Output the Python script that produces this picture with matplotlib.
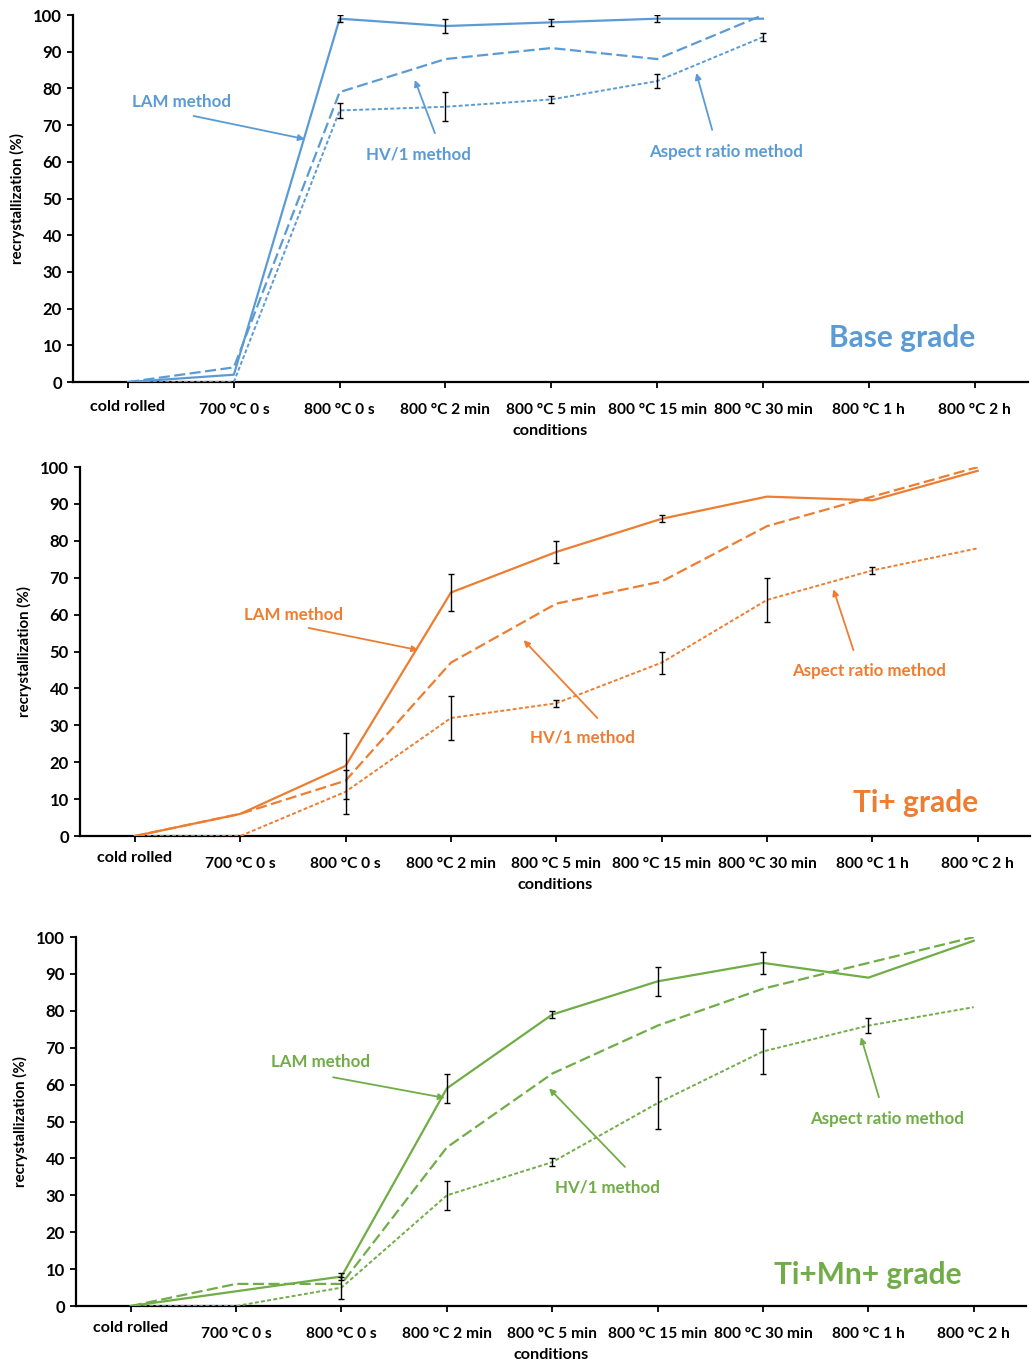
import matplotlib
matplotlib.use("Agg")
import matplotlib.pyplot as plt
import numpy as np

plt.rcParams['font.family'] = ['Lato', 'DejaVu Sans']
plt.rcParams['font.weight'] = 'bold'

conditions = ['cold rolled', '700 °C 0 s', '800 °C 0 s', '800 °C 2 min', '800 °C 5 min',
              '800 °C 15 min', '800 °C 30 min', '800 °C 1 h', '800 °C 2 h']

# Base grade (data only up to 800 °C 30 min)
base_lam = [0, 2, 99, 97, 98, 99, 99]
base_lam_err = [0, 0, 1, 2, 1, 1, 0]
base_hv = [0, 4, 79, 88, 91, 88, 100]
base_ar = [0, 0, 74, 75, 77, 82, 94]
base_ar_err = [0, 0, 2, 4, 1, 2, 1]

# Ti+ grade
ti_lam = [0, 6, 19, 66, 77, 86, 92, 91, 99]
ti_lam_err = [0, 0, 9, 5, 3, 1, 0, 0, 0]
ti_hv = [0, 6, 15, 47, 63, 69, 84, 92, 100]
ti_ar = [0, 0, 12, 32, 36, 47, 64, 72, 78]
ti_ar_err = [0, 0, 6, 6, 1, 3, 6, 1, 0]

# Ti+Mn+ grade
timn_lam = [0, 4, 8, 59, 79, 88, 93, 89, 99]
timn_lam_err = [0, 0, 1, 4, 1, 4, 3, 0, 0]
timn_hv = [0, 6, 6, 43, 63, 76, 86, 93, 100]
timn_ar = [0, 0, 5, 30, 39, 55, 69, 76, 81]
timn_ar_err = [0, 0, 3, 4, 1, 7, 6, 2, 0]

blue = '#5B9BD5'
orange = '#ED7D31'
green = '#70AD47'

fig = plt.figure(figsize=(10.32, 13.65), dpi=100)


def draw_panel(rect, lam, lam_err, hv, ar, ar_err, color, grade, grade_xy, notes, first_up):
    ax = fig.add_axes(rect)
    x_lam = np.arange(len(lam))
    x_hv = np.arange(len(hv))
    x_ar = np.arange(len(ar))
    ax.plot(x_lam, lam, color=color, lw=1.6, zorder=3)
    ax.plot(x_hv, hv, color=color, lw=1.6, dashes=(5, 2), zorder=3)
    ax.plot(x_ar, ar, color=color, lw=1.4, dashes=(2, 1.2), zorder=3)
    lam_e = np.array(lam_err, dtype=float)
    ar_e = np.array(ar_err, dtype=float)
    m = lam_e > 0
    ax.errorbar(x_lam[m], np.array(lam)[m], yerr=lam_e[m], fmt='none', ecolor='black',
                elinewidth=1, capsize=2.5, capthick=1, zorder=4)
    m = ar_e > 0
    ax.errorbar(x_ar[m], np.array(ar)[m], yerr=ar_e[m], fmt='none', ecolor='black',
                elinewidth=1, capsize=2.5, capthick=1, zorder=4)

    for label, txy, tail, tip in notes:
        ax.text(txy[0], txy[1], label, color=color, fontsize=12.2, fontweight='bold',
                ha='center', va='center')
        ax.annotate('', xy=tip, xytext=tail,
                    arrowprops=dict(arrowstyle='-|>', color=color, lw=1.3, mutation_scale=9,
                                    shrinkA=0, shrinkB=0))
    ax.text(grade_xy[0], grade_xy[1], grade, color=color, fontsize=21.5, fontweight='bold',
            ha='center', va='center')

    ax.set_xlim(-0.52, 8.5)
    ax.set_ylim(0, 100)
    ax.set_yticks(range(0, 101, 10))
    ax.set_xticks(range(len(conditions)))
    ax.set_xticklabels(conditions, fontweight='bold')
    for s in ['top', 'right']:
        ax.spines[s].set_visible(False)
    for s in ['left', 'bottom']:
        ax.spines[s].set_linewidth(1.6)
    ax.tick_params(axis='y', direction='out', length=4, width=1.3, labelsize=12, pad=4)
    ax.tick_params(axis='x', direction='out', length=4, width=1.3, labelsize=11.2, pad=11)
    ax.set_ylabel('recrystallization (%)', fontsize=10.8, fontweight='bold', labelpad=6)
    ax.set_xlabel('conditions', fontsize=11.7, fontweight='bold', labelpad=5)
    # first category label sits a little higher in the original
    lbl = ax.get_xticklabels()[0]
    lbl.set_y(first_up)
    lbl.set_fontsize(11.6)
    lbl.set_fontweight('bold')
    return ax


draw_panel([0.0707, 0.7201, 0.925, 0.2689], base_lam, base_lam_err, base_hv, base_ar, base_ar_err,
           blue, 'Base grade', (7.32, 12),
           [('LAM method', (0.51, 76.3), (0.62, 72.5), (1.67, 66.2)),
            ('HV/1 method', (2.74, 62.1), (2.90, 67.8), (2.71, 82.3)),
            ('Aspect ratio method', (5.65, 62.7), (5.52, 68.7), (5.37, 84.2))], 0.008)

draw_panel([0.0775, 0.3875, 0.921, 0.2703], ti_lam, ti_lam_err, ti_hv, ti_ar, ti_ar_err,
           orange, 'Ti+ grade', (7.41, 8.9),
           [('LAM method', (1.51, 59.9), (1.65, 56.4), (2.69, 50.4)),
            ('HV/1 method', (4.25, 26.6), (4.39, 32.0), (3.69, 53.1)),
            ('Aspect ratio method', (6.97, 44.7), (6.82, 50.4), (6.63, 66.9))], 0.016)

draw_panel([0.0736, 0.0432, 0.921, 0.2703], timn_lam, timn_lam_err, timn_hv, timn_ar, timn_ar_err,
           green, 'Ti+Mn+ grade', (6.99, 8.4),
           [('LAM method', (1.80, 66.1), (1.92, 62.0), (2.98, 56.4)),
            ('HV/1 method', (4.52, 32.2), (4.69, 37.7), (3.97, 59.0)),
            ('Aspect ratio method', (7.18, 50.7), (7.10, 56.6), (6.93, 72.9))], 0.016)

fig.savefig('out.png', dpi=100)
